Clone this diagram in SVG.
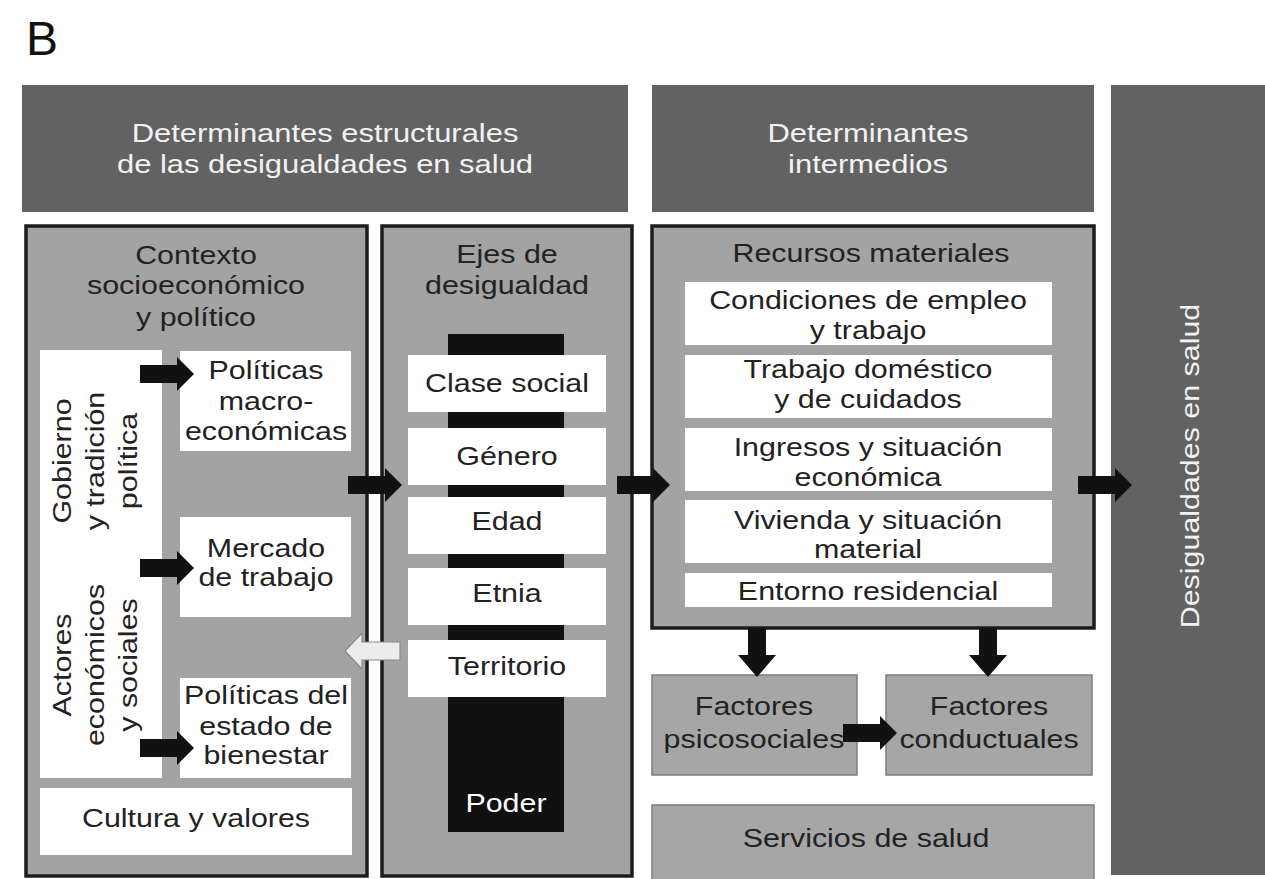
<svg xmlns="http://www.w3.org/2000/svg" width="1265" height="879" viewBox="0 0 1265 879">
<style>
.hdr{fill:#626262}
.panel{fill:#a3a3a3;stroke:#1c1c1c;stroke-width:3.5}
.wbox{fill:#ffffff}
.gbox{fill:#a6a6a6;stroke:#7c7c7c;stroke-width:1.5}
.t{font-family:"Liberation Sans",Arial,sans-serif;font-size:26px;fill:#222;text-anchor:middle}
.tw{font-family:"Liberation Sans",Arial,sans-serif;font-size:26px;fill:#f2f2f2;text-anchor:middle}
.arr{fill:#111}
.arrw{fill:#ececec;stroke:#8a8a8a;stroke-width:1.2}
</style>
<rect width="1265" height="879" fill="#ffffff"/>
<text x="26" y="55" font-family="Liberation Sans, Arial, sans-serif" font-size="48" fill="#111">B</text>

<g id="hdr-estructurales">
<rect class="hdr" x="22" y="85" width="606" height="127"/>
<text class="tw" transform="translate(325,0) scale(1.19,1)"><tspan x="0" y="142">Determinantes estructurales</tspan><tspan x="0" y="173">de las desigualdades en salud</tspan></text>
</g>
<g id="hdr-intermedios">
<rect class="hdr" x="652" y="85" width="442" height="127"/>
<text class="tw" transform="translate(868,0) scale(1.19,1)"><tspan x="0" y="142">Determinantes</tspan><tspan x="0" y="173">intermedios</tspan></text>
</g>
<g id="desigualdades">
<rect class="hdr" x="1111" y="85" width="154" height="790"/>
<text class="tw" transform="translate(1190,466) rotate(-90) scale(1.17,1)" x="0" y="9">Desigualdades en salud</text>
</g>

<g id="contexto">
<rect class="panel" x="26" y="226" width="341" height="650"/>
<text class="t" transform="translate(196,0) scale(1.17,1)"><tspan x="0" y="264">Contexto</tspan><tspan x="0" y="294">socioeconómico</tspan><tspan x="0" y="326">y político</tspan></text>
</g>
<g id="actores-box">
<rect class="wbox" x="40" y="350" width="122" height="428"/>
<text class="t" transform="translate(95,461) rotate(-90) scale(1.17,1)"><tspan x="0" y="-24">Gobierno</tspan><tspan x="0" y="9">y tradición</tspan><tspan x="0" y="42">política</tspan></text>
<text class="t" transform="translate(95,665) rotate(-90) scale(1.17,1)"><tspan x="0" y="-24">Actores</tspan><tspan x="0" y="9">económicos</tspan><tspan x="0" y="42">y sociales</tspan></text>
</g>
<g id="politicas-macro">
<rect class="wbox" x="180" y="351" width="171" height="100"/>
<text class="t" transform="translate(266,0) scale(1.17,1)"><tspan x="0" y="379">Políticas</tspan><tspan x="0" y="410">macro-</tspan><tspan x="0" y="440">económicas</tspan></text>
</g>
<g id="mercado">
<rect class="wbox" x="180" y="517" width="171" height="100"/>
<text class="t" transform="translate(266,0) scale(1.17,1)"><tspan x="0" y="557">Mercado</tspan><tspan x="0" y="586">de trabajo</tspan></text>
</g>
<g id="politicas-bienestar">
<rect class="wbox" x="180" y="678" width="171" height="100"/>
<text class="t" transform="translate(266,0) scale(1.17,1)"><tspan x="0" y="704">Políticas del</tspan><tspan x="0" y="735">estado de</tspan><tspan x="0" y="764">bienestar</tspan></text>
</g>
<g id="cultura">
<rect class="wbox" x="40" y="788" width="312" height="67"/>
<text class="t" transform="translate(196,0) scale(1.17,1)" x="0" y="827">Cultura y valores</text>
</g>

<g id="ejes">
<rect class="panel" x="382" y="226" width="250" height="650"/>
<text class="t" transform="translate(507,0) scale(1.17,1)"><tspan x="0" y="263">Ejes de</tspan><tspan x="0" y="294">desigualdad</tspan></text>
<rect x="448" y="334" width="116" height="498" fill="#111"/>
</g>
<g id="clase"><rect class="wbox" x="408" y="355" width="198" height="57"/><text class="t" transform="translate(507,0) scale(1.17,1)" x="0" y="392">Clase social</text></g>
<g id="genero"><rect class="wbox" x="408" y="428" width="198" height="57"/><text class="t" transform="translate(507,0) scale(1.17,1)" x="0" y="465">Género</text></g>
<g id="edad"><rect class="wbox" x="408" y="497" width="198" height="57"/><text class="t" transform="translate(507,0) scale(1.17,1)" x="0" y="530">Edad</text></g>
<g id="etnia"><rect class="wbox" x="408" y="568" width="198" height="57"/><text class="t" transform="translate(507,0) scale(1.17,1)" x="0" y="602">Etnia</text></g>
<g id="territorio"><rect class="wbox" x="408" y="640" width="198" height="57"/><text class="t" transform="translate(507,0) scale(1.17,1)" x="0" y="675">Territorio</text></g>
<g id="poder"><text class="tw" transform="translate(506,0) scale(1.17,1)" x="0" y="812" style="fill:#fff">Poder</text></g>

<g id="recursos">
<rect class="panel" x="652" y="226" width="442" height="402"/>
<text class="t" transform="translate(871,0) scale(1.17,1)" x="0" y="262">Recursos materiales</text>
</g>
<g id="condiciones"><rect class="wbox" x="685" y="282" width="367" height="63"/><text class="t" transform="translate(868,0) scale(1.17,1)"><tspan x="0" y="309">Condiciones de empleo</tspan><tspan x="0" y="339">y trabajo</tspan></text></g>
<g id="domestico"><rect class="wbox" x="685" y="355" width="367" height="63"/><text class="t" transform="translate(868,0) scale(1.17,1)"><tspan x="0" y="378">Trabajo doméstico</tspan><tspan x="0" y="408">y de cuidados</tspan></text></g>
<g id="ingresos"><rect class="wbox" x="685" y="428" width="367" height="63"/><text class="t" transform="translate(868,0) scale(1.17,1)"><tspan x="0" y="456">Ingresos y situación</tspan><tspan x="0" y="486">económica</tspan></text></g>
<g id="vivienda"><rect class="wbox" x="685" y="500" width="367" height="63"/><text class="t" transform="translate(868,0) scale(1.17,1)"><tspan x="0" y="529">Vivienda y situación</tspan><tspan x="0" y="558">material</tspan></text></g>
<g id="entorno"><rect class="wbox" x="685" y="573" width="367" height="34"/><text class="t" transform="translate(868,0) scale(1.17,1)" x="0" y="600">Entorno residencial</text></g>

<g id="psicosociales"><rect class="gbox" x="652" y="675" width="205" height="100"/><text class="t" transform="translate(754,0) scale(1.17,1)"><tspan x="0" y="715">Factores</tspan><tspan x="0" y="748">psicosociales</tspan></text></g>
<g id="conductuales"><rect class="gbox" x="886" y="675" width="206" height="100"/><text class="t" transform="translate(989,0) scale(1.17,1)"><tspan x="0" y="715">Factores</tspan><tspan x="0" y="748">conductuales</tspan></text></g>
<g id="servicios"><rect class="gbox" x="652" y="805" width="442" height="80"/><text class="t" transform="translate(866,0) scale(1.17,1)" x="0" y="847">Servicios de salud</text></g>

<g id="connectors">
<path class="arr" d="M140,365 H177 V357 L194,374 L177,391 V383 H140 Z"/>
<path class="arr" d="M140,559 H177 V551 L194,568 L177,585 V577 H140 Z"/>
<path class="arr" d="M140,739 H177 V731 L194,748 L177,765 V757 H140 Z"/>
<path class="arr" d="M348,476 H385 V468 L402,485 L385,502 V494 H348 Z"/>
<path class="arr" d="M617,476 H653 V468 L670,485 L653,502 V494 H617 Z"/>
<path class="arr" d="M1078,476 H1115 V468 L1132,485 L1115,502 V494 H1078 Z"/>
<path class="arr" d="M843,724 H880 V716 L897,733 L880,750 V742 H843 Z"/>
<path class="arr" d="M748,628 V655 H738 L757,677 L776,655 H766 V628 Z"/>
<path class="arr" d="M979,628 V655 H969 L988,677 L1007,655 H997 V628 Z"/>
<path class="arrw" d="M400,642 H362 V633 L345,651 L362,669 V660 H400 Z"/>
</g>
</svg>
